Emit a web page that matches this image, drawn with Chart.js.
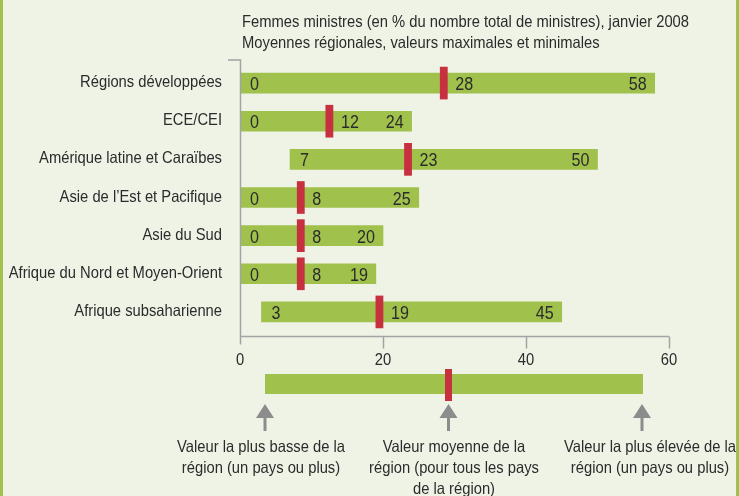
<!DOCTYPE html>
<html>
<head>
<meta charset="utf-8">
<script src="https://cdn.jsdelivr.net/npm/chart.js@4"></script>
<style>
  html, body { margin: 0; padding: 0; background: #eff3e6; }
  #wrap { position: relative; width: 739px; height: 496px; }
</style>
</head>
<body>
<div id="wrap"><canvas id="chart" width="739" height="496"></canvas></div>
<script>
"use strict";

// Women ministers, January 2008 — regional min / mean / max (%)
const regions = [
    "Régions développées",
    "ECE/CEI",
    "Amérique latine et Caraïbes",
    "Asie de l\u2019Est et Pacifique",
    "Asie du Sud",
    "Afrique du Nord et Moyen-Orient",
    "Afrique subsaharienne"
];
const minValues  = [0, 0, 7, 0, 0, 0, 3];
const meanValues = [28, 12, 23, 8, 8, 8, 19];
const maxValues  = [58, 24, 50, 25, 20, 19, 45];
const xTicks     = [0, 20, 40, 60];

const titleLines = [
    "Femmes ministres (en % du nombre total de ministres), janvier 2008",
    "Moyennes régionales, valeurs maximales et minimales"
];
const legendTexts = [
    ["Valeur la plus basse de la", "région (un pays ou plus)"],
    ["Valeur moyenne de la", "région (pour tous les pays", "de la région)"],
    ["Valeur la plus élevée de la", "région (un pays ou plus)"]
];

const GREEN = "#a0c14c";
const RED   = "#c7303f";
const TEXT  = "#2b2b2b";
const AXIS  = "#a3a3a3";
const FONT  = "16.5px 'Liberation Sans', Arial, sans-serif";
const VALUE_FONT = "18px 'Liberation Sans', Arial, sans-serif";

// The original uses a condensed face; squeeze Liberation Sans horizontally
// so the first title line spans the same width as in the source (~447px).
let squeeze = 1;
function narrowText(c, text, x, y, align) {
    c.save();
    c.translate(x, y);
    c.scale(squeeze, 1);
    c.textAlign = align;
    c.fillText(text, 0, 0);
    c.restore();
}

// Page frame, titles, axes, labels and the explanatory key
const decorations = {
    id: "decorations",
    beforeDraw(chart) {
        const c = chart.ctx;
        c.save();
        c.fillStyle = "#eff3e6";
        c.fillRect(0, 0, chart.width, chart.height);
        c.fillStyle = GREEN;
        c.fillRect(0, 0, 3, chart.height);
        c.fillRect(chart.width - 3, 0, 3, chart.height);

        c.font = FONT;
        squeeze = 447 / c.measureText(titleLines[0]).width;
        c.fillStyle = TEXT;
        c.textBaseline = "alphabetic";
        narrowText(c, titleLines[0], 242, 27, "left");
        narrowText(c, titleLines[1], 242, 48, "left");
        c.restore();
    },
    afterDatasetsDraw(chart) {
        const c = chart.ctx;
        const x = chart.scales.x;
        const y = chart.scales.y;
        const area = chart.chartArea;
        c.save();

        // axis lines
        c.strokeStyle = AXIS;
        c.lineWidth = 1.5;
        const x0 = Math.round(area.left) + 0.5;
        const yAxis = Math.round(area.bottom) + 5.5;
        c.beginPath();
        c.moveTo(area.left - 12, area.top - 4);
        c.lineTo(x0, area.top - 4);
        c.lineTo(x0, yAxis + 8);
        c.moveTo(x0, yAxis);
        c.lineTo(area.right, yAxis);
        xTicks.slice(1).forEach(v => {
            const px = Math.round(x.getPixelForValue(v)) + 0.5;
            c.moveTo(px, yAxis);
            c.lineTo(px, yAxis + 12);
        });
        c.stroke();

        c.fillStyle = TEXT;
        c.font = FONT;
        c.textBaseline = "alphabetic";

        // x tick labels
        xTicks.forEach(v => narrowText(c, String(v), x.getPixelForValue(v), 365, "center"));

        // category labels
        regions.forEach((r, i) => narrowText(c, r, area.left - 18, y.getPixelForValue(i) + 4, "right"));

        // value labels on each bar
        c.font = VALUE_FONT;
        const meta = chart.getDatasetMeta(0);
        regions.forEach((r, i) => {
            const py = meta.data[i].y + 7;
            narrowText(c, String(minValues[i]), x.getPixelForValue(minValues[i]) + 10, py, "left");
            narrowText(c, String(meanValues[i]), meta.data[i].x + 8, py, "left");
            narrowText(c, String(maxValues[i]), x.getPixelForValue(maxValues[i]) - 8, py, "right");
        });

        // explanatory key under the chart
        c.fillStyle = GREEN;
        c.fillRect(265, 374, 378, 20);
        c.fillStyle = RED;
        c.fillRect(445, 369, 7, 32);
        c.fillStyle = "#8c8c8c";
        [265, 448.5, 642].forEach(ax => {
            c.beginPath();
            c.moveTo(ax, 404);
            c.lineTo(ax + 9, 418);
            c.lineTo(ax - 9, 418);
            c.closePath();
            c.fill();
            c.fillRect(ax - 1.5, 417, 3, 14);
        });
        c.fillStyle = TEXT;
        c.font = FONT;
        const centres = [261, 454, 650];
        legendTexts.forEach((lines, k) => {
            lines.forEach((t, j) => narrowText(c, t, centres[k], 452 + j * 21, "center"));
        });
        c.restore();
    }
};

const ctx = document.getElementById("chart").getContext("2d");
const chart = new Chart(ctx, {
    type: "bar",
    data: {
        labels: regions,
        datasets: [
            {
                label: "Moyenne",
                data: meanValues.map(v => [v, v + 1]),
                backgroundColor: RED,
                barThickness: 32,
                grouped: false,
                order: 0
            },
            {
                label: "Min - max",
                data: minValues.map((v, i) => [v, maxValues[i]]),
                backgroundColor: GREEN,
                barThickness: 20,
                grouped: false,
                order: 1
            }
        ]
    },
    options: {
        indexAxis: "y",
        responsive: false,
        animation: false,
        layout: { padding: { left: 0, top: 64, right: 70, bottom: 125 } },
        plugins: {
            legend: { display: false },
            tooltip: { enabled: false }
        },
        scales: {
            x: {
                min: 0,
                max: 60,
                afterFit(scale) { scale.height = 40; },
                afterBuildTicks(scale) { scale.ticks = xTicks.map(v => ({ value: v })); },
                grid: { display: false, drawTicks: false },
                border: { display: false },
                ticks: { display: false }
            },
            y: {
                afterFit(scale) { scale.width = 240; },
                grid: { display: false, drawTicks: false },
                border: { display: false },
                ticks: { display: false }
            }
        }
    },
    plugins: [decorations]
});
</script>
</body>
</html>
